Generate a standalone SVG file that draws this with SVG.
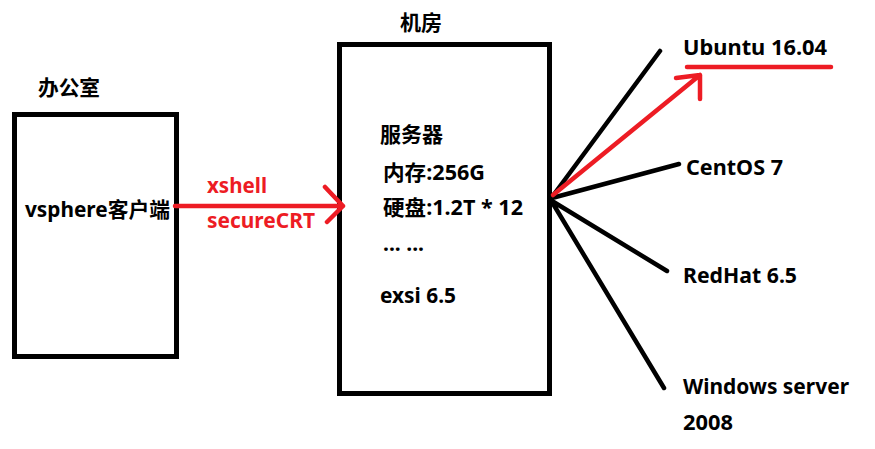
<svg xmlns="http://www.w3.org/2000/svg" width="875" height="449" viewBox="0 0 875 449">
<style>
text{font-family:"Noto Sans","Noto Sans CJK SC",sans-serif;font-weight:bold;font-size:21px;fill:#000}
.red{fill:#ED1C24}
.box{fill:none;stroke:#000;stroke-width:5}
.blk{stroke:#000;stroke-width:4.5;stroke-linecap:round;fill:none}
.rl{stroke:#ED1C24;stroke-width:4.5;stroke-linecap:round;stroke-linejoin:round;fill:none}
</style>
<rect width="875" height="449" fill="#fff"/>
<g id="office">
<text x="38" y="95" textLength="62" lengthAdjust="spacingAndGlyphs">办公室</text>
<rect class="box" x="14.5" y="114.5" width="162" height="242"/>
<text x="25" y="217" textLength="145" lengthAdjust="spacingAndGlyphs">vsphere客户端</text>
</g>
<g id="server">
<text x="400" y="30" textLength="42" lengthAdjust="spacingAndGlyphs">机房</text>
<rect class="box" x="339.5" y="44.5" width="210" height="349"/>
<text x="380" y="142" textLength="63" lengthAdjust="spacingAndGlyphs">服务器</text>
<text x="383" y="180" textLength="102" lengthAdjust="spacingAndGlyphs">内存:256G</text>
<text x="383" y="215" textLength="140" lengthAdjust="spacingAndGlyphs">硬盘:1.2T * 12</text>
<text x="383" y="251" textLength="41" lengthAdjust="spacingAndGlyphs">... ...</text>
<text x="380" y="303" textLength="76" lengthAdjust="spacingAndGlyphs">exsi 6.5</text>
</g>
<g id="ubuntu"><text x="683" y="55" textLength="144" lengthAdjust="spacingAndGlyphs">Ubuntu 16.04</text></g>
<g id="centos"><text x="686" y="175" textLength="97" lengthAdjust="spacingAndGlyphs">CentOS 7</text></g>
<g id="redhat"><text x="683" y="283" textLength="114" lengthAdjust="spacingAndGlyphs">RedHat 6.5</text></g>
<g id="windows">
<text x="683" y="394" textLength="166" lengthAdjust="spacingAndGlyphs">Windows server</text>
<text x="683" y="430" textLength="50" lengthAdjust="spacingAndGlyphs">2008</text>
</g>
<g id="connectors">
<path class="rl" d="M175 206H343M325 187L343 206L327 222"/>
<text class="red" x="207" y="193" textLength="60" lengthAdjust="spacingAndGlyphs">xshell</text>
<text class="red" x="207" y="228" textLength="108" lengthAdjust="spacingAndGlyphs">secureCRT</text>
<path class="blk" d="M552 197L660 51M552 198L679 164M552 201L667 271M552 202L664 388"/>
<path class="rl" d="M553 195L700 75M676 78L700 75L700 99"/>
<path class="rl" d="M687 67H831"/>
</g>
</svg>
